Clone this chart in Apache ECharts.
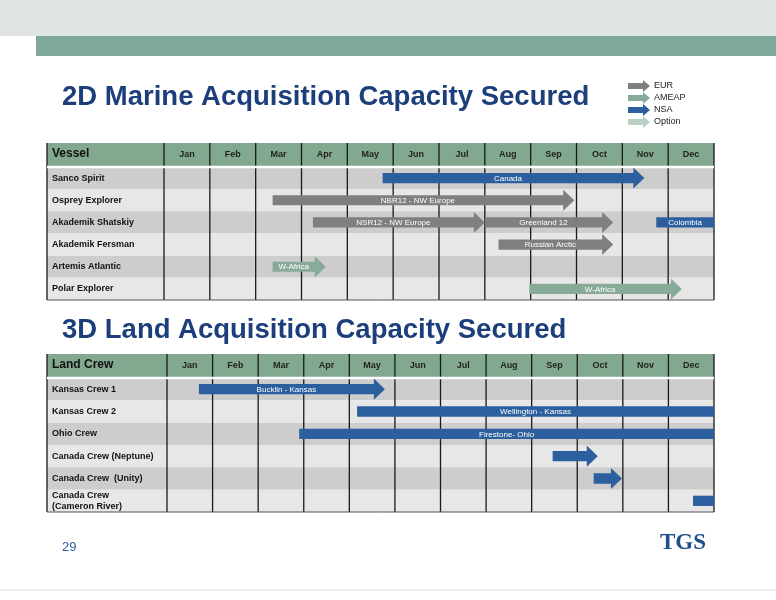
<!DOCTYPE html>
<html><head><meta charset="utf-8">
<script src="https://cdn.jsdelivr.net/npm/echarts@6/dist/echarts.min.js"></script>
<style>html,body{margin:0;padding:0;background:#fff}#c{width:776px;height:600px}</style>
</head><body><div id="c"></div>
<script>
const months = ['Jan','Feb','Mar','Apr','May','Jun','Jul','Aug','Sep','Oct','Nov','Dec'];
const vessels = ['Sanco Spirit','Osprey Explorer','Akademik Shatskiy','Akademik Fersman','Artemis Atlantic','Polar Explorer'];
const crews = ['Kansas Crew 1','Kansas Crew 2','Ohio Crew','Canada Crew (Neptune)','Canada Crew  (Unity)','Canada Crew\n(Cameron River)'];
// [start month, end month, row, label, region, arrow]
const marineJobs = [
  [4.77, 10.48, 0, 'Canada', 'NSA', 1],
  [2.37, 8.95, 1, 'NBR12 - NW Europe', 'EUR', 1],
  [3.25, 7.0, 2, 'NSR12 - NW Europe', 'EUR', 1],
  [7.0, 9.8, 2, 'Greenland 12', 'EUR', 1],
  [10.74, 12, 2, 'Colombia', 'NSA', 0],
  [7.3, 9.8, 3, 'Russian Arctic', 'EUR', 1],
  [2.37, 3.53, 4, 'W-Africa', 'AMEAP', 1],
  [7.97, 11.3, 5, 'W-Africa', 'AMEAP', 1]
];
const landJobs = [
  [0.7, 4.78, 0, 'Bucklin - Kansas', 'NSA', 1],
  [4.17, 12, 1, 'Wellington - Kansas', 'NSA', 0],
  [2.9, 12, 2, 'Firestone- Ohio', 'NSA', 0],
  [8.46, 9.45, 3, '', 'NSA', 1],
  [9.36, 9.98, 4, '', 'NSA', 1],
  [11.54, 12, 5, '', 'NSA', 0]
];
const legendItems = ['EUR','AMEAP','NSA','Option'];
const colors = {EUR:'#7f7f7f', AMEAP:'#87ab98', NSA:'#2c5f9e', Option:'#b9d0c3'};

const chart = echarts.init(document.getElementById('c'));
const LBL = [117, 120];
const HDR = 24;

function stripes(p, api) {
  const cs = p.coordSys, row = api.value(0);
  const y = api.coord([0, row])[1], h = api.size([0, 1])[1];
  const lw = LBL[p.seriesIndex < 3 ? 0 : 1];
  return {type:'rect', shape:{x:cs.x - lw, y:y - h/2, width:cs.width + lw, height:h},
    style:{fill: row % 2 ? '#e7e7e7' : '#cdcdcd'}};
}
function lines(p, api) {
  const cs = p.coordSys, lw = LBL[p.seriesIndex < 3 ? 0 : 1];
  const ch = [];
  const xs = [cs.x - lw, cs.x + cs.width];
  for (let i = 0; i < 12; i++) xs.push(api.coord([i, 0])[0]);
  xs.forEach(x => ch.push({type:'line', shape:{x1:x, y1:cs.y - HDR, x2:x, y2:cs.y + cs.height},
    style:{stroke:'#1a1a1a', lineWidth:1.3}}));
  ch.push({type:'line', shape:{x1:cs.x - lw, y1:cs.y, x2:cs.x + cs.width, y2:cs.y}, style:{stroke:'#fff', lineWidth:2.5}});
  ch.push({type:'line', shape:{x1:cs.x - lw, y1:cs.y + cs.height, x2:cs.x + cs.width, y2:cs.y + cs.height}, style:{stroke:'#555', lineWidth:1}});
  return {type:'group', children:ch};
}
function bars(p, api) {
  const a = api.coord([api.value(0), api.value(2)]);
  const b = api.coord([api.value(1), api.value(2)]);
  const h = api.size([0, 1])[1];
  const sh = h * 0.46, hh = h * 0.95, hl = Math.min(11, (b[0] - a[0]) * 0.6);
  const arrow = api.value(5) === 1;
  const y = a[1], x0 = a[0], x1 = b[0];
  const pts = arrow
    ? [[x0, y - sh/2], [x1 - hl, y - sh/2], [x1 - hl, y - hh/2], [x1, y], [x1 - hl, y + hh/2], [x1 - hl, y + sh/2], [x0, y + sh/2]]
    : [[x0, y - sh/2], [x1, y - sh/2], [x1, y + sh/2], [x0, y + sh/2]];
  return {type:'group', children:[
    {type:'polygon', shape:{points:pts}, style:{fill:colors[api.value(4)]}},
    {type:'text', style:{text:api.value(3), x:(x0 + x1 - (arrow ? hl : 0)) / 2, y:y + 0.5, align:'center', verticalAlign:'middle',
      fill:'#fff', font:'8px "Liberation Sans", Arial'}}
  ]};
}
function rowData(n) { return Array.from({length:n}, (_, i) => [i]); }

const grids = [
  {left:164, right:62, top:167, height:133},
  {left:167, right:62, top:378, height:134}
];
const xAxes = [], yAxes = [];
grids.forEach((g, i) => {
  xAxes.push({type:'value', gridIndex:i, min:0, max:12, interval:1, show:false});
  xAxes.push({type:'category', gridIndex:i, data:months, position:'top', z:10, axisLine:{show:false}, axisTick:{show:false},
    axisLabel:{margin:8, color:'#222', fontSize:9, fontWeight:'bold', fontFamily:'Liberation Sans'}});
  yAxes.push({type:'category', gridIndex:i, inverse:true, z:10, data:i ? crews : vessels, axisLine:{show:false}, axisTick:{show:false},
    axisLabel:{align:'left', margin:LBL[i] - 5, color:'#111', fontSize:9, fontWeight:'bold', fontFamily:'Liberation Sans', lineHeight:11}});
});

function gridSeries(i, jobs, names) {
  return [
    {type:'custom', xAxisIndex:i*2, yAxisIndex:i, renderItem:stripes, data:rowData(names.length), clip:false, z:1, silent:true},
    {type:'custom', xAxisIndex:i*2, yAxisIndex:i, renderItem:lines, data:[[0]], clip:false, z:2, silent:true},
    {type:'custom', xAxisIndex:i*2, yAxisIndex:i, renderItem:bars, data:jobs, clip:false, z:3,
      encode:{x:[0,1], y:2}}
  ];
}

const legendG = legendItems.map((k, i) => {
  const y = 86 + i * 12;
  return {type:'group', children:[
    {type:'polygon', shape:{points:[[628,y-3],[643,y-3],[643,y-6],[650,y],[643,y+6],[643,y+3],[628,y+3]]},
      style:{fill:colors[k]}},
    {type:'text', style:{text:k, x:654, y:y, verticalAlign:'middle', fill:'#222', font:'9px "Liberation Sans", Arial'}}
  ]};
});

chart.setOption({
  animation:false,
  grid:grids,
  xAxis:xAxes,
  yAxis:yAxes,
  graphic:[
    {type:'rect', z:-10, shape:{x:0, y:0, width:776, height:36}, style:{fill:'#dfe3e2'}},
    {type:'rect', z:-10, shape:{x:36, y:36, width:740, height:20}, style:{fill:'#7ea897'}},
    {type:'text', left:62, top:83, style:{text:'2D Marine Acquisition Capacity Secured', fill:'#1c3f7c', font:'bold 27.5px "Liberation Sans", Arial'}},
    {type:'text', left:62, top:316, style:{text:'3D Land Acquisition Capacity Secured', fill:'#1c3f7c', font:'bold 27.5px "Liberation Sans", Arial'}},
    {type:'rect', z:-10, shape:{x:47, y:143, width:667, height:24}, style:{fill:'#82a88f'}},
    {type:'rect', z:-10, shape:{x:47, y:354, width:667, height:24}, style:{fill:'#82a88f'}},
    {type:'text', left:52, top:148, style:{text:'Vessel', fill:'#111', font:'bold 12px "Liberation Sans", Arial'}},
    {type:'text', left:52, top:359, style:{text:'Land Crew', fill:'#111', font:'bold 12px "Liberation Sans", Arial'}},
    {type:'text', left:62, top:541, style:{text:'29', fill:'#2c5f9e', font:'13px "Liberation Sans", Arial'}},
    {type:'text', left:660, top:532, style:{text:'TGS', fill:'#1f4f8f', font:'bold 23px "Liberation Serif", serif'}},
    {type:'line', shape:{x1:0, y1:590, x2:776, y2:590}, style:{stroke:'#dddddd', lineWidth:1}}
  ].concat(legendG),
  series:gridSeries(0, marineJobs, vessels).concat(gridSeries(1, landJobs, crews))
});
</script></body></html>
